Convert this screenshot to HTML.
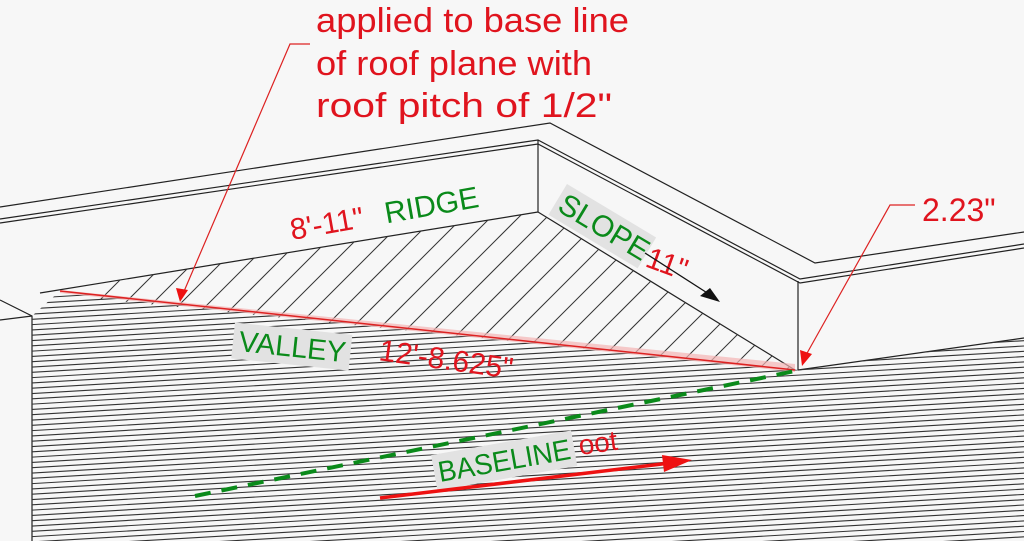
<!DOCTYPE html>
<html><head><meta charset="utf-8"><style>
html,body{margin:0;padding:0;background:#f7f7f7;overflow:hidden;width:1024px;height:541px}
svg{display:block}
text{font-family:"Liberation Sans",sans-serif;}
</style></head><body>
<svg width="1024" height="541" viewBox="0 0 1024 541" xmlns="http://www.w3.org/2000/svg">
<defs>
<clipPath id="low"><polygon points="32,316 60,291 798,370 1024,338 1024,541 32,541"/></clipPath>
<clipPath id="tri"><polygon points="40,293 538,212 795,370"/></clipPath>
</defs>
<rect width="1024" height="541" fill="#f7f7f7"/>
<g stroke="#222" stroke-width="1.2" fill="none">
<polyline points="0,207 550,123 815,263 1024,232"/>
<polyline points="0,219 538,140 800,279 1024,244"/>
<polyline points="0,223 538,144 800,283 1024,248"/>
<line x1="538" y1="140" x2="538" y2="212"/>
<line x1="798" y1="281" x2="798" y2="370"/>
<line x1="40" y1="293" x2="538" y2="212"/>
<line x1="538" y1="212" x2="795" y2="370"/>
<polyline points="0,300 32,316 32,541"/>
<line x1="0" y1="320" x2="32" y2="316"/>
<line x1="798" y1="370" x2="1024" y2="338"/>
</g>
<g clip-path="url(#low)" stroke="#333" stroke-width="1.1">
<g id="hl">
<line x1="0" y1="300" x2="1024" y2="240"/><line x1="0" y1="305.3" x2="1024" y2="245.3"/><line x1="0" y1="310.6" x2="1024" y2="250.6"/><line x1="0" y1="315.9" x2="1024" y2="255.9"/><line x1="0" y1="321.2" x2="1024" y2="261.2"/><line x1="0" y1="326.5" x2="1024" y2="266.5"/><line x1="0" y1="331.8" x2="1024" y2="271.8"/><line x1="0" y1="337.1" x2="1024" y2="277.1"/><line x1="0" y1="342.4" x2="1024" y2="282.4"/><line x1="0" y1="347.7" x2="1024" y2="287.7"/>
</g>
<use href="#hl" y="53"/><use href="#hl" y="106"/><use href="#hl" y="159"/><use href="#hl" y="212"/><use href="#hl" y="265"/><use href="#hl" y="318"/>
</g>
<g clip-path="url(#tri)" stroke="#333" stroke-width="1">
<g id="dl">
<line x1="0" y1="400" x2="200" y2="200"/><line x1="28" y1="400" x2="228" y2="200"/><line x1="56" y1="400" x2="256" y2="200"/><line x1="84" y1="400" x2="284" y2="200"/><line x1="112" y1="400" x2="312" y2="200"/><line x1="140" y1="400" x2="340" y2="200"/><line x1="168" y1="400" x2="368" y2="200"/><line x1="196" y1="400" x2="396" y2="200"/>
</g>
<use href="#dl" x="224"/><use href="#dl" x="448"/><use href="#dl" x="672"/>
</g>
<polygon points="60,290 795,364 795,372 60,293" fill="#f4b4b4" opacity="0.7"/>
<line x1="60" y1="291" x2="795" y2="370" stroke="#d22" stroke-width="1.5"/>
<g stroke="#d22" stroke-width="1.2" fill="none">
<polyline points="310,44 290,44 182,296"/>
<polyline points="915,205 890,205 806,355"/>
</g>
<polygon points="176,288 188,290 180,302" fill="#e11"/>
<polygon points="800,350 812,354 802,366" fill="#e11"/>
<g fill="#e0141e" font-size="34">
<text x="316" y="32" textLength="313" lengthAdjust="spacingAndGlyphs">applied to base line</text>
<text x="316" y="75" textLength="276" lengthAdjust="spacingAndGlyphs">of roof plane with</text>
<text x="316" y="117" textLength="296" lengthAdjust="spacingAndGlyphs">roof pitch of 1/2"</text>
<text x="922" y="221" font-size="32">2.23"</text>
</g>
<g transform="translate(292,240) rotate(-10)"><text font-size="30" fill="#e0141e">8'-11"</text><text x="96" font-size="30" fill="#0a8a1a">RIDGE</text></g>
<g transform="translate(556,210) rotate(31)"><rect x="-4" y="-28" width="104" height="36" fill="#e2e2e2"/><text font-size="30" fill="#0a8a1a">SLOPE</text></g>
<text transform="translate(644,266) rotate(20)" font-size="30" fill="#e0141e">11"</text>
<line x1="645" y1="253" x2="712" y2="296" stroke="#111" stroke-width="1.3"/>
<polygon points="720,302 700,296 710,288" fill="#111"/>
<g transform="translate(238,351) rotate(6)"><rect x="-6" y="-28" width="118" height="36" fill="#e2e2e2"/><text font-size="29" fill="#0a8a1a">VALLEY</text></g>
<text transform="translate(378,360) rotate(8)" font-size="30" fill="#e0141e">12'-8.625"</text>
<line x1="195" y1="496" x2="795" y2="371" stroke="#0a8a1a" stroke-width="4" stroke-dasharray="16,11"/>
<text transform="translate(580,455) rotate(-8)" font-size="28" fill="#e0141e">oot</text>
<g transform="translate(440,482) rotate(-10)"><rect x="-4" y="-28" width="142" height="36" fill="#e2e2e2"/><text font-size="29" fill="#0a8a1a" textLength="134" lengthAdjust="spacingAndGlyphs">BASELINE</text></g>
<line x1="380" y1="498" x2="670" y2="463" stroke="#e11" stroke-width="3.5"/>
<polygon points="692,460 662,455 664,472" fill="#e11"/>
</svg>
</body></html>
